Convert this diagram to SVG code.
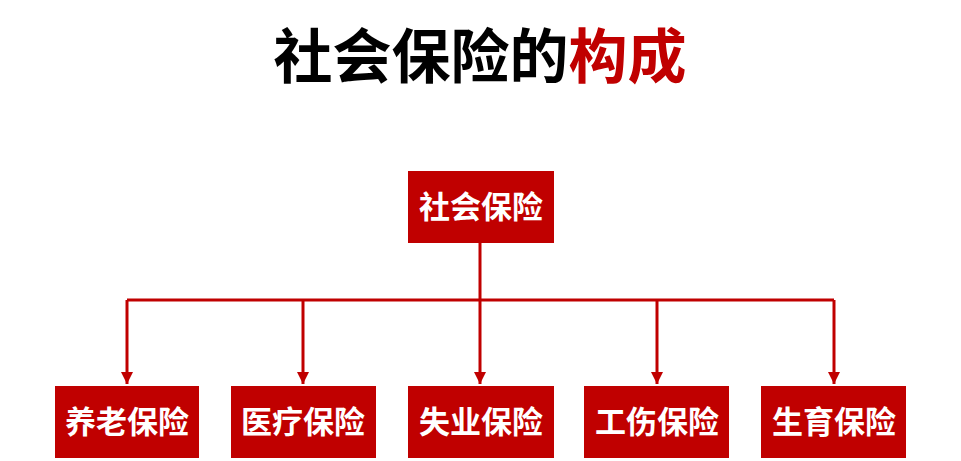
<svg xmlns="http://www.w3.org/2000/svg" width="961" height="461" viewBox="0 0 961 461">
<style>
.box{fill:#C00000}
.lbl{font-family:"Noto Sans CJK SC",sans-serif;font-weight:bold;font-size:31px;fill:#fff;text-anchor:middle}
.ln{stroke:#C00000;stroke-width:3;fill:none}
</style>
<defs><marker id="ah" viewBox="0 0 10 10" refX="10" refY="5" markerWidth="4" markerHeight="4" orient="auto" markerUnits="strokeWidth"><path d="M0,0L10,5L0,10z" fill="#C00000"/></marker></defs>
<rect width="961" height="461" fill="#fff"/>
<text x="480" y="78" font-family="Noto Sans CJK SC,sans-serif" font-weight="bold" font-size="59" text-anchor="middle" fill="#000">社会保险的<tspan fill="#C00000">构成</tspan></text>
<g id="top"><rect class="box" x="408" y="171" width="146" height="72"/><text class="lbl" x="481" y="218">社会保险</text></g>
<g id="connectors">
<path class="ln" d="M480,243V300"/>
<path class="ln" d="M127,300H834"/>
<path class="ln" d="M127,300V384" marker-end="url(#ah)"/>
<path class="ln" d="M303,300V384" marker-end="url(#ah)"/>
<path class="ln" d="M480,300V384" marker-end="url(#ah)"/>
<path class="ln" d="M657,300V384" marker-end="url(#ah)"/>
<path class="ln" d="M834,300V384" marker-end="url(#ah)"/>
</g>
<g id="n1"><rect class="box" x="55" y="386" width="144" height="72"/><text class="lbl" x="127" y="433">养老保险</text></g>
<g id="n2"><rect class="box" x="231" y="386" width="145" height="72"/><text class="lbl" x="303" y="433">医疗保险</text></g>
<g id="n3"><rect class="box" x="408" y="386" width="146" height="72"/><text class="lbl" x="481" y="433">失业保险</text></g>
<g id="n4"><rect class="box" x="584" y="386" width="145" height="72"/><text class="lbl" x="657" y="433">工伤保险</text></g>
<g id="n5"><rect class="box" x="761" y="386" width="145" height="72"/><text class="lbl" x="834" y="433">生育保险</text></g>
</svg>
